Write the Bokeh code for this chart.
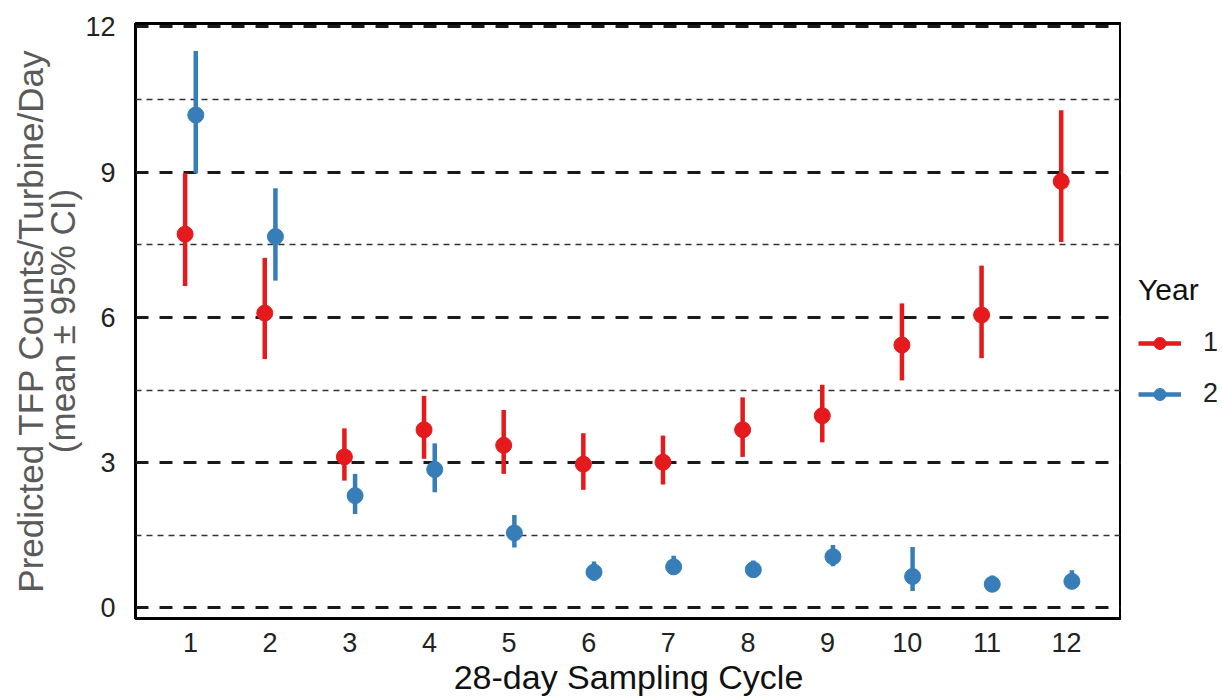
from bokeh.plotting import figure
from bokeh.layouts import row
from bokeh.models import (FixedTicker, Range1d, Legend, LegendItem,
                          ColumnDataSource)
from bokeh.transform import dodge
from bokeh.embed import file_html
from bokeh.resources import INLINE

# ---- data ----
cycles = list(range(1, 13))
y1_mean = [7.72, 6.09, 3.12, 3.68, 3.36, 2.97, 3.01, 3.68, 3.97, 5.43, 6.05, 8.81]
y1_lo   = [6.65, 5.14, 2.63, 3.08, 2.77, 2.44, 2.55, 3.12, 3.42, 4.70, 5.16, 7.56]
y1_hi   = [8.98, 7.23, 3.71, 4.38, 4.09, 3.61, 3.56, 4.35, 4.61, 6.29, 7.07, 10.28]
y2_mean = [10.18, 7.67, 2.32, 2.86, 1.55, 0.74, 0.85, 0.79, 1.06, 0.65, 0.49, 0.55]
y2_lo   = [8.98, 6.76, 1.94, 2.39, 1.25, 0.56, 0.69, 0.64, 0.86, 0.35, 0.40, 0.42]
y2_hi   = [11.50, 8.67, 2.77, 3.40, 1.92, 0.96, 1.08, 0.98, 1.30, 1.26, 0.67, 0.78]
years = ["1", "2"]
y_ticks = [0, 3, 6, 9, 12]
y_minor = [1.5, 4.5, 7.5, 10.5]

RED = "#E41A1C"
BLUE = "#377EB8"
FONT = "Liberation Sans"

p = figure(width=1121, height=698, output_backend="svg", toolbar_location=None,
           x_range=Range1d(0.31, 12.69), y_range=Range1d(-0.217, 12.07),
           min_border_left=135, min_border_right=0, min_border_top=23,
           min_border_bottom=80)
p.title.visible = False
p.background_fill_color = "white"
p.border_fill_color = "white"
p.outline_line_color = "black"
p.outline_line_width = 3
p.outline_line_alpha = 1.0

# grid
p.xgrid.visible = False
p.ygrid.ticker = FixedTicker(ticks=y_ticks, minor_ticks=y_minor)
p.ygrid.grid_line_color = "#1a1a1a"
p.ygrid.grid_line_width = 3
p.ygrid.grid_line_dash = "13 11"
p.ygrid.minor_grid_line_color = "#333333"
p.ygrid.minor_grid_line_width = 1.6
p.ygrid.minor_grid_line_dash = "6 5"

# axes
for ax in (p.xaxis[0], p.yaxis[0]):
    ax.axis_line_color = None
    ax.major_tick_line_color = None
    ax.minor_tick_line_color = None
    ax.major_label_text_font = FONT
    ax.major_label_text_font_size = "27px"
    ax.major_label_text_color = "#222222"
    ax.axis_label_text_font = FONT
    ax.axis_label_text_font_style = "normal"

p.xaxis.ticker = FixedTicker(ticks=cycles)
p.xaxis.major_label_standoff = 8
p.xaxis.axis_label = "28-day Sampling Cycle"
p.xaxis.axis_label_text_font_size = "34px"
p.xaxis.axis_label_text_color = "#111111"
p.xaxis.axis_label_standoff = 3

p.yaxis.ticker = FixedTicker(ticks=y_ticks)
p.yaxis.major_label_standoff = 14
p.yaxis.axis_label = "Predicted TFP Counts/Turbine/Day\n(mean \u00b1 95% CI)"
p.yaxis.axis_label_text_font_size = "35px"
p.yaxis.axis_label_text_line_height = 0.82
p.yaxis.axis_label_text_color = "#5a5a5a"
p.yaxis.axis_label_standoff = 0

# data sources
src1 = ColumnDataSource(dict(x=cycles, m=y1_mean, lo=y1_lo, hi=y1_hi))
src2 = ColumnDataSource(dict(x=cycles, m=y2_mean, lo=y2_lo, hi=y2_hi))

d1 = dodge("x", -0.067, range=p.x_range)
d2 = dodge("x", 0.067, range=p.x_range)

p.segment(x0=d1, y0="lo", x1=d1, y1="hi", source=src1, line_color=RED, line_width=4.5)
p.scatter(x=d1, y="m", source=src1, size=16, fill_color=RED, line_color=RED)
p.segment(x0=d2, y0="lo", x1=d2, y1="hi", source=src2, line_color=BLUE, line_width=4.5)
p.scatter(x=d2, y="m", source=src2, size=16, fill_color=BLUE, line_color=BLUE)

# ---- legend panel (separate narrow figure to the right) ----
# its renderers reuse the same sources but lie outside this panel's ranges,
# so only their legend glyphs show
q = figure(width=101, height=698, output_backend="svg", toolbar_location=None,
           x_axis_type=None, y_axis_type=None, x_range=Range1d(-20, -19),
           y_range=Range1d(-20, -19), min_border=0)
q.title.visible = False
q.outline_line_color = None
q.xgrid.visible = False
q.ygrid.visible = False
ls1 = q.segment(x0="x", y0="lo", x1="x", y1="hi", source=src1,
                line_color=RED, line_width=4.5)
lc1 = q.scatter(x="x", y="m", source=src1, size=16, fill_color=RED, line_color=RED)
ls2 = q.segment(x0="x", y0="lo", x1="x", y1="hi", source=src2,
                line_color=BLUE, line_width=4.5)
lc2 = q.scatter(x="x", y="m", source=src2, size=16, fill_color=BLUE, line_color=BLUE)

legend = Legend(items=[LegendItem(label=years[0], renderers=[ls1, lc1]),
                       LegendItem(label=years[1], renderers=[ls2, lc2])],
                title="Year", location=(17, 209))
legend.title_text_font = FONT
legend.title_text_font_size = "30px"
legend.title_text_font_style = "normal"
legend.title_text_color = "#111111"
legend.title_standoff = 20
legend.label_text_font = FONT
legend.label_text_font_size = "27px"
legend.label_text_color = "#222222"
legend.glyph_width = 43
legend.glyph_height = 30
legend.label_standoff = 22
legend.spacing = 20
legend.padding = 5
legend.margin = 0
legend.border_line_color = None
legend.background_fill_alpha = 0
q.add_layout(legend)

layout = row(p, q, spacing=0)
open("out.html", "w").write(file_html(layout, INLINE))
